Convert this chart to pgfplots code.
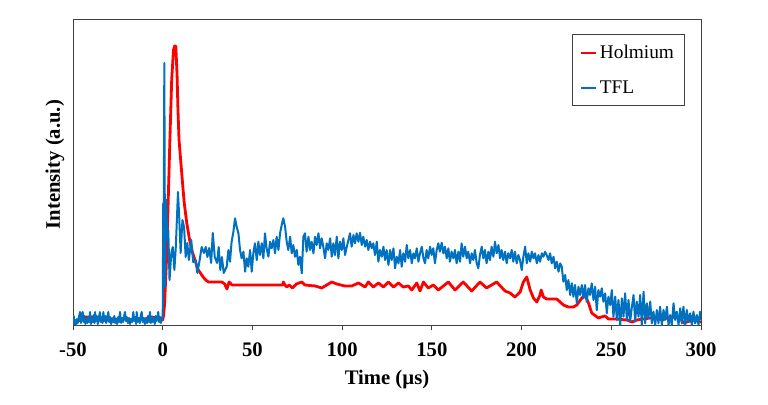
\documentclass[border=0pt]{standalone}
\usepackage{fontspec}
\setmainfont{Liberation Serif}
\usepackage{pgfplots}
\pgfplotsset{compat=1.18}
\usepackage{pgfplotstable}
\definecolor{holred}{RGB}{255,0,0}
\definecolor{tflblue}{RGB}{0,112,192}
\definecolor{axgray}{RGB}{64,64,64}

\pgfplotstableread{
x y
-50 3
-47 4
-45 6
-44 8
-40 8
-38 8
-36.5 5
-30 5
-26 6
-20 6
-15 5
-10 6
-6 8
-3 7
-1 7
0 5
0.5 10
1 20
2 60
3 120
4 185
5 245
6 275
6.6 279
7.3 279
8 250
8.5 215
9.1 185
10 165
11 143
12 122
13.4 102
15 85
16.5 73
18 65
19.5 56
21 52
22.5 48
24 45
25.5 43
28 43
30 43
33 43
34.5 41
35.8 36
37 43
38.6 40
67 40
67.2 43
68.2 40
69.1 38
70.5 40
72.3 37
74.5 41
77.5 43
79.3 40
85 39
88.6 37
91.4 40
94.2 43
97.0 41
101.6 39
105.3 39
109.1 42
112.8 38
114.6 43
117.4 38
120.2 42
123.0 38
125.8 43
128.6 38
131.4 42
134.1 38
136.9 39
138.8 35
141.6 42
143.4 34
145.3 43
148.0 37
150.8 40
153.6 35
159.2 43
162.9 35
167.5 43
172.2 34
176.8 43
180.5 37
186.1 43
190.8 34
193.6 32
196.3 28
199.2 33
201.0 43
202.9 48
204.8 35
206.6 27
208.5 23
210.3 30
210.9 35
212.2 28
214.0 26
219.6 26
221.5 23
223.3 20
226.1 18
228.9 18
230.8 20
233.6 27
235.4 30
237.3 22
239.1 12
242.8 7
244.5 8
246.6 9
248.4 6
252.1 6
258.7 5
261.5 3
264.2 5
271.7 7
275.4 8
278.2 5
281.0 7
284.7 8
288.4 7
290.2 2
292.1 3
295.8 5
299.5 3
300 3
}\holmium

\pgfplotstableread{
x y
-50 2
-49.6 9
-49.2 1
-48.8 5
-48.3 0
-47.8 6
-47.3 2
-46.8 7
-46.1 13
-45.6 2
-45.1 8
-44.6 13
-44.1 3
-43.6 9
-43.1 1
-42.6 6
-42 2
-41.5 8
-41 3
-40.5 13
-40 1
-39.5 7
-39 3
-38.5 10
-38 2
-37.7 13
-37.2 4
-36.7 9
-36.2 1
-35.7 6
-35 13
-34.5 3
-34 8
-33.5 2
-33.1 13
-32.6 4
-32 9
-31.5 2
-31 6
-30.3 13
-29.8 3
-29.3 8
-28.7 1
-28.2 7
-27.6 3
-27 9
-26.5 2
-26 6
-25.4 1
-24.8 8
-24.3 3
-23.8 13
-23.2 2
-22.7 7
-22.1 3
-21.5 9
-21 13
-20.5 4
-20 8
-19.4 2
-18.8 7
-18.2 1
-17.6 6
-17 3
-16.4 13
-15.9 4
-15.3 8
-14.8 1
-14.5 13
-14 3
-13.4 7
-12.8 2
-12.3 9
-11.7 13
-11.2 3
-10.6 7
-10 1
-9.4 6
-8.8 2
-8.2 9
-7.6 3
-7.1 13
-6.6 2
-6 8
-5.5 3
-5 7
-4.4 1
-3.9 9
-3.4 4
-2.9 7
-2.5 13
-2 3
-1.5 8
-1 2
-0.5 6
0 8
0.3 122
0.5 60
0.9 262
1.3 38
2.0 125
2.5 85
3.1 95
3.8 45
4.8 72
5.6 78
6.5 55
7.3 78
8.5 133
9.1 112
10.0 72
11.0 105
11.9 98
12.8 68
13.7 82
14.6 65
15.9 85
17.0 63
18.3 65
19.3 52
20.6 65
21.7 78
23.0 72
24.0 78
24.9 68
25.9 77
27.0 62
27.9 92
29.0 68
30.3 62
31.2 78
32.1 55
33.0 68
34.0 52
35.65 58.3
36.6 75
37.5 63.3
38.4 83.3
39.4 93.3
40.3 106.7
41.2 98.3
42.2 91.7
43.1 75
44.0 66.7
45.0 73.3
45.9 53.3
46.8 66.7
47.7 58.3
48.7 75
49.6 53.3
50.5 71.7
51.4 81.7
52.4 65
53.3 83.3
54.2 70
55.2 81.7
56.1 66.7
57.0 91.7
57.9 76.7
58.9 68.3
59.8 83.3
60.7 76.7
61.7 85
62.6 71.7
63.5 88.3
64.5 75
65.4 91.7
66.3 100
67.2 106.7
68.2 98.3
69.1 83.3
70.0 75
71.0 88.3
71.9 71.7
72.8 80
73.7 68.3
74.7 75
75.6 60
76.5 68.3
77.5 51.7
78.4 88.3
79.3 91.7
80.2 73.3
81.2 88.3
82.1 75
83.0 83.3
84.0 71.7
84.9 88.3
85.8 80
86.8 91.7
87.7 76.7
88.6 86.7
89.5 78.3
90.5 66.7
91.4 81.7
92.3 75
93.3 86.7
94.2 68.3
95.1 81.7
96.0 70
97.0 88.3
97.9 66.7
98.8 83.3
99.8 75
100.7 86.7
101.6 70
102.6 78.3
103.5 85
104.4 91.7
105.3 78.3
106.3 90
107.2 81.7
108.1 91.7
109.1 83.3
110.0 92.3
110.9 80
111.8 88.3
112.8 78.3
113.7 85
114.6 75
115.6 83.3
116.5 76.7
117.4 81.7
118.3 70
119.3 83.3
120.2 63.3
121.1 75
122.1 68.3
123.0 78.3
123.9 65
124.8 75
125.8 60
126.7 75
127.6 65
128.6 76.7
129.5 56.7
130.4 68.3
131.4 61.7
132.3 75
133.2 58.3
134.1 71.7
135.1 63.3
136.0 80
136.9 66.7
137.9 75
138.8 61.7
139.7 71.7
140.6 66.7
141.6 76.7
142.5 63.3
143.4 71.7
144.4 78.3
145.3 66.7
146.2 61.7
147.1 75
148.0 66.7
149.0 78.3
149.9 70
150.8 76.7
151.7 61.7
152.7 75
153.6 81.7
154.5 73.3
155.5 82.3
156.4 71.7
157.3 78.3
158.3 66.7
159.2 76.7
160.1 63.3
161.0 73.3
162.0 66.7
162.9 75
163.8 61.7
164.8 73.3
165.7 63.3
166.6 81.7
167.5 68.3
168.5 78.3
169.4 66.7
170.3 73.3
171.3 61.7
172.2 71.7
173.1 65
174.0 75
175.0 61.7
175.9 56.7
176.8 70
177.8 78.3
178.7 66.7
179.6 75
180.5 61.7
181.5 73.3
182.4 65
183.3 78.3
184.3 68.3
185.2 83.3
186.1 71.7
187.1 80
188.0 66.7
188.9 75
189.8 65
190.8 73.3
191.7 61.7
192.6 71.7
193.6 66.7
194.5 75
195.4 63.3
196.3 73.3
197.3 61.7
198.2 70
199.1 65
200.1 55
201.0 68.3
202.0 78.3
202.9 61.7
203.8 71.7
204.8 63.3
205.7 73.3
206.6 66.7
207.5 71.7
208.5 61.7
209.4 70
210.3 63.3
211.3 71.7
212.2 68.3
213.1 73.3
214.0 70
215.0 65
215.9 71.7
216.8 61.7
217.8 68.3
218.7 56.7
219.6 63.3
220.6 53.3
221.5 61.7
222.4 58.3
223.3 43.3
224.3 50
225.2 35
226.1 45
227.1 30
228.0 41.7
228.9 28.3
229.8 40
230.8 21.7
231.7 38.3
232.6 30
233.6 40
234.5 26.7
235.4 40
236.3 23.3
237.3 36.7
238.2 30
239.1 41.7
240.1 25
241.0 38.3
241.9 15
242.8 35
243.8 28.3
244.7 36.7
245.6 23.3
246.6 31.7
247.5 11.7
248.4 28.3
249.4 20
250.3 35
251.2 8.3
252.2 28.3
253.1 5
254.0 25
255.0 0
255.9 26.7
256.8 8.3
257.7 31.7
258.7 5
259.6 25
260.5 3.3
261.5 18.3
262.4 30
263.3 3.3
264.2 23.3
265.2 8.3
266.1 30
267.0 0
268.0 33.3
268.9 1.7
269.8 21.7
270.7 6.7
271.7 23.3
272.6 1.7
273.5 13.3
274.5 0
275.4 15
276.3 1.7
277.2 18.3
278.2 0
279.1 15
280.0 5
281.0 18.3
281.9 0
282.8 10
283.7 0
284.7 21.7
285.6 5
286.5 13.3
287.5 0
288.4 16.7
289.3 1.7
290.2 18.3
291.2 0
292.1 15
293.0 3.3
294.0 11.7
294.9 0
295.8 13.3
296.7 1.7
297.7 10
298.6 0
299.5 13.3
300 5
}\tfl

\begin{document}
\begin{tikzpicture}[x=1pt,y=1pt]
\useasboundingbox (0,0) rectangle (576,303);
\begin{axis}[
  at={(54.75pt,59.25pt)}, anchor=south west,
  scale only axis, width=471pt, height=229.5pt,
  xmin=-50, xmax=300, ymin=0, ymax=306,
  xtick={-50,0,50,100,150,200,250,300},
  xticklabels={\textbf{-50},\textbf{0},\textbf{50},\textbf{100},\textbf{150},\textbf{200},\textbf{250},\textbf{300}},
  ytick=\empty,
  xtick pos=bottom, xtick align=outside,
  major tick length=4pt,
  axis line style={draw=axgray, line width=0.7pt},
  every tick/.style={draw=axgray, line width=0.7pt},
  xticklabel style={font=\rmfamily\fontsize{15.5}{18}\selectfont, anchor=center, yshift=-14.5pt},
  xlabel={\textbf{Time (µs)}},
  ylabel={\textbf{Intensity (a.u.)}},
  xlabel style={font=\rmfamily\fontsize{15.5}{18}\selectfont, at={(axis description cs:0.5,-0.178)}, anchor=center},
  ylabel style={font=\rmfamily\fontsize{15.5}{18}\selectfont, at={(axis description cs:-0.0287,0.524)}, anchor=center, rotate=0},
  legend style={at={(axis description cs:0.7946,0.951)}, anchor=north west,
    draw=axgray, line width=0.6pt, font=\rmfamily\fontsize{14.5}{16}\selectfont,
    inner xsep=6pt, inner ysep=6pt, row sep=11pt},
  legend cell align=left,
  legend image code/.code={\draw[#1, line width=1.6pt] (0pt,0pt) -- (11pt,0pt);},
  clip=true,
]
\addplot[holred, line width=2.1pt, line join=round] table[x=x,y=y] {\holmium};
\addlegendentry{Holmium}
\addplot[tflblue, line width=1.5pt, line join=round] table[x=x,y=y] {\tfl};
\addlegendentry{TFL}
\end{axis}
\end{tikzpicture}
\end{document}
